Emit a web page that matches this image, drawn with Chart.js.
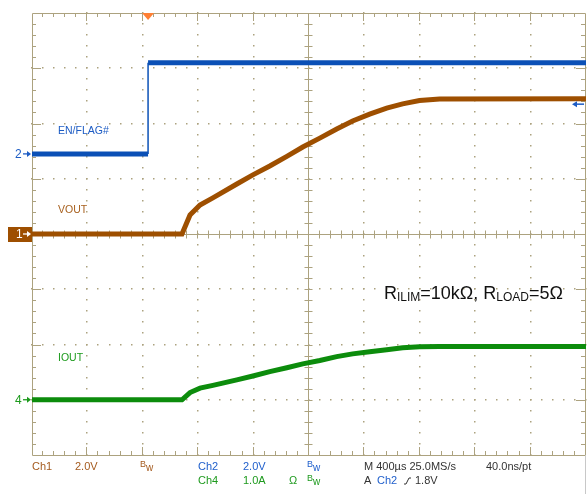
<!DOCTYPE html>
<html>
<head>
<meta charset="utf-8">
<script src="https://cdn.jsdelivr.net/npm/chart.js@4"></script>
<style>
  body { margin: 0; background: #fff; }
  #wrap { width: 587px; height: 494px; position: relative; }
</style>
</head>
<body>
<div id="wrap"><canvas id="scope"></canvas></div>
<script>
// scope settings
const timePerDiv = 400;      // us/div
const ch1PerDiv = 2;         // V/div
const ch2PerDiv = 2;         // V/div
const ch4PerDiv = 1;         // A/div
const timeMin = -838;        // trigger is ~2.1 div from the left edge
const ch1Ground = 4.0;       // divisions from bottom
const ch2Ground = 5.45;
const ch4Ground = 1.0;
const trigLevel = 1.8;       // V on Ch2

// EN/FLAG# (Ch2, V)
const enTimes = [-838, 0, 0, 3162];
const enFlag = [0, 0, 3.3, 3.3];

// VOUT (Ch1, V) and IOUT (Ch4, A), us after trigger
const times = [-838, 245, 303, 375, 468, 641, 757, 879, 1002, 1117, 1240, 1362, 1477, 1600, 1723, 1838, 1960, 2105, 3162];
const vout = [0, 0, 0.69, 1.05, 1.31, 1.81, 2.14, 2.46, 2.81, 3.15, 3.47, 3.80, 4.09, 4.34, 4.56, 4.71, 4.83, 4.89, 4.90];
const iout = [0, 0, 0.13, 0.21, 0.26, 0.36, 0.43, 0.51, 0.58, 0.65, 0.71, 0.78, 0.83, 0.87, 0.905, 0.94, 0.96, 0.965, 0.965];

const gratColor = '#aca27f';
const brown = '#9e4f00';
const blue = '#0b50b6';
const green = '#0c8c0c';
const font = 'Arial, "Liberation Sans", sans-serif';

function pts(xs, ys) {
  return xs.map((x, i) => ({x: x, y: ys[i]}));
}

function drawGraticule(chart) {
  const c = chart.ctx;
  const a = chart.chartArea;
  const xs = chart.scales.x;
  const ys = chart.scales.y1;
  const gx = [], gy = [];
  for (let i = 0; i <= 50; i++) gx.push(xs.getPixelForValue(timeMin + i * timePerDiv / 5));
  for (let j = 0; j <= 40; j++) gy.push(ys.getPixelForValue(-ch1Ground * ch1PerDiv + j * ch1PerDiv / 5));
  c.save();
  c.fillStyle = gratColor;
  c.strokeStyle = gratColor;
  c.lineWidth = 1;
  // dotted grid
  for (let i = 5; i < 50; i += 5) {
    if (i == 25) continue;
    for (let j = 0; j <= 40; j++) c.fillRect(Math.round(gx[i]) - 1, Math.round(gy[j]) - 1, 1.5, 1.5);
  }
  for (let j = 5; j < 40; j += 5) {
    if (j == 20) continue;
    for (let i = 0; i <= 50; i++) c.fillRect(Math.round(gx[i]) - 1, Math.round(gy[j]) - 1, 1.5, 1.5);
  }
  const cx = Math.round(gx[25]) - 0.5;
  const cy = Math.round(gy[20]) + 0.5;
  c.beginPath();
  // border
  c.rect(Math.round(a.left) + 0.5, Math.round(a.top) + 0.5, Math.round(a.right - a.left) - 1, Math.round(a.bottom - a.top));
  // center cross
  c.moveTo(cx, a.top); c.lineTo(cx, a.bottom);
  c.moveTo(a.left, cy); c.lineTo(a.right, cy);
  for (let i = 1; i < 50; i++) {
    const x = Math.round(gx[i]) - 0.5;
    const len = i % 5 == 0 ? 8 : 4;
    c.moveTo(x, a.top); c.lineTo(x, a.top + len);
    c.moveTo(x, a.bottom); c.lineTo(x, a.bottom - len);
    c.moveTo(x, cy - 4); c.lineTo(x, cy + 4);
  }
  for (let j = 1; j < 40; j++) {
    const y = Math.round(gy[j]) + 0.5;
    const len = j % 5 == 0 ? 9 : 4;
    c.moveTo(a.left, y); c.lineTo(a.left + len, y);
    c.moveTo(a.right - 1, y); c.lineTo(a.right - 1 - len, y);
    c.moveTo(cx - 4, y); c.lineTo(cx + 4, y);
  }
  c.stroke();
  // right edge continues below the screen
  c.strokeStyle = '#c8c8c8';
  c.beginPath(); c.moveTo(a.right - 0.5, a.bottom); c.lineTo(a.right - 0.5, 494); c.stroke();
  c.restore();
}

function arrowRight(c, x1, x2, y, col) {
  c.strokeStyle = col; c.fillStyle = col; c.lineWidth = 1.3;
  c.beginPath(); c.moveTo(x1, y); c.lineTo(x2 - 3, y); c.stroke();
  c.beginPath(); c.moveTo(x2, y); c.lineTo(x2 - 4, y - 3); c.lineTo(x2 - 4, y + 3); c.closePath(); c.fill();
}

function richText(c, x, y, parts) {
  for (const p of parts) {
    c.font = p.size + 'px ' + font;
    c.fillText(p.t, x, y + (p.dy || 0));
    x += c.measureText(p.t).width;
  }
  return x;
}

function bw(c, x, y, col) {
  c.fillStyle = col;
  c.font = '9px ' + font;
  c.fillText('B', x, y - 2);
  c.font = '10px ' + font;
  c.fillText('w', x + 6, y + 1);
}

function drawLabels(chart) {
  const c = chart.ctx;
  const xs = chart.scales.x;
  const a = chart.chartArea;
  const y1 = chart.scales.y1.getPixelForValue(0);
  const y2 = chart.scales.y2.getPixelForValue(0);
  const y4 = chart.scales.y4.getPixelForValue(0);
  c.save();
  c.textBaseline = 'middle';
  c.textAlign = 'left';

  // trace names
  c.font = '10.5px ' + font;
  c.fillStyle = '#1d5cc4'; c.fillText('EN/FLAG#', 58, 131);
  c.fillStyle = '#a8611f'; c.fillText('VOUT', 58, 210);
  c.fillStyle = '#1c9a1c'; c.fillText('IOUT', 58, 358);

  // ground markers
  c.font = '12px ' + font;
  c.fillStyle = '#1d5cc4'; c.fillText('2', 15, y2 + 1);
  arrowRight(c, 23, 31, y2, '#1d5cc4');
  c.fillStyle = brown; c.fillRect(8, y1 - 7, 24, 15);
  c.fillStyle = '#fff'; c.font = '12px ' + font; c.fillText('1', 16, y1 + 1);
  arrowRight(c, 23, 31, y1, '#fff');
  c.fillStyle = '#1c9a1c'; c.font = '12px ' + font; c.fillText('4', 15, y4 + 1);
  arrowRight(c, 23, 31, y4, '#1c9a1c');

  // trigger position and level
  const tx = xs.getPixelForValue(0);
  c.fillStyle = '#ff7f33';
  c.beginPath(); c.moveTo(tx - 6, a.top); c.lineTo(tx + 6, a.top); c.lineTo(tx, a.top + 7); c.closePath(); c.fill();
  const ty = chart.scales.y2.getPixelForValue(trigLevel);
  c.strokeStyle = '#1d5cc4'; c.fillStyle = '#1d5cc4'; c.lineWidth = 1.5;
  c.beginPath(); c.moveTo(574, ty); c.lineTo(584, ty); c.stroke();
  c.beginPath(); c.moveTo(572, ty); c.lineTo(577, ty - 3); c.lineTo(577, ty + 3); c.closePath(); c.fill();

  // condition note
  c.textBaseline = 'alphabetic';
  c.fillStyle = '#111';
  richText(c, 384, 299, [
    {t: 'R', size: 18}, {t: 'ILIM', size: 12, dy: 2},
    {t: '=10kΩ, ', size: 18},
    {t: 'R', size: 18}, {t: 'LOAD', size: 12, dy: 2},
    {t: '=5Ω', size: 18}
  ]);

  // readout
  c.textBaseline = 'middle';
  c.font = '11px ' + font;
  const r1 = 467, r2 = 481;
  c.fillStyle = '#a45a1e'; c.fillText('Ch1', 32, r1); c.fillText('2.0V', 75, r1);
  bw(c, 140, r1, '#a45a1e');
  c.font = '11px ' + font;
  c.fillStyle = '#2160cc'; c.fillText('Ch2', 198, r1); c.fillText('2.0V', 243, r1);
  bw(c, 307, r1, '#2160cc');
  c.font = '11px ' + font;
  c.fillStyle = '#1e9a1e'; c.fillText('Ch4', 198, r2); c.fillText('1.0A', 243, r2); c.fillText('Ω', 289, r2);
  bw(c, 307, r2, '#1e9a1e');
  c.font = '11px ' + font;
  c.fillStyle = '#333';
  c.fillText('M 400µs 25.0MS/s', 364, r1);
  c.fillText('40.0ns/pt', 486, r1);
  c.fillText('A', 364, r2);
  c.fillStyle = '#2160cc'; c.fillText('Ch2', 377, r2);
  c.strokeStyle = '#333'; c.lineWidth = 1;
  c.beginPath(); c.moveTo(404, r2 + 3); c.lineTo(406, r2 + 3); c.lineTo(409, r2 - 3); c.lineTo(411, r2 - 3); c.stroke();
  c.fillStyle = '#333'; c.fillText('1.8V', 415, r2);
  c.restore();
}

const scopePlugin = {
  id: 'scope',
  beforeDatasetsDraw: drawGraticule,
  afterDraw: drawLabels
};

const ctx = document.getElementById('scope').getContext('2d');
const scopeChart = new Chart(ctx, {
  type: 'line',
  data: {
    datasets: [
      {
        label: 'IOUT',
        data: pts(times, iout),
        yAxisID: 'y4',
        borderColor: green,
        borderWidth: 5
      },
      {
        label: 'VOUT',
        data: pts(times, vout),
        yAxisID: 'y1',
        borderColor: brown,
        borderWidth: 5
      },
      {
        label: 'EN/FLAG#',
        data: pts(enTimes, enFlag),
        yAxisID: 'y2',
        borderColor: blue,
        borderWidth: 5,
        segment: {
          borderWidth: s => (s.p0.parsed.x == s.p1.parsed.x ? 1.5 : 5)
        }
      }
    ]
  },
  options: {
    responsive: true,
    maintainAspectRatio: false,
    animation: false,
    layout: { padding: { left: 32, top: 13, right: 1, bottom: 39 } },
    elements: {
      point: { radius: 0 },
      line: { tension: 0, borderCapStyle: 'butt', borderJoinStyle: 'miter' }
    },
    plugins: {
      legend: { display: false },
      tooltip: { enabled: false }
    },
    scales: {
      x: { type: 'linear', min: timeMin, max: timeMin + 10 * timePerDiv, display: false },
      y1: { min: -ch1Ground * ch1PerDiv, max: (8 - ch1Ground) * ch1PerDiv, display: false },
      y2: { min: -ch2Ground * ch2PerDiv, max: (8 - ch2Ground) * ch2PerDiv, display: false },
      y4: { min: -ch4Ground * ch4PerDiv, max: (8 - ch4Ground) * ch4PerDiv, display: false }
    }
  },
  plugins: [scopePlugin]
});
</script>
</body>
</html>
